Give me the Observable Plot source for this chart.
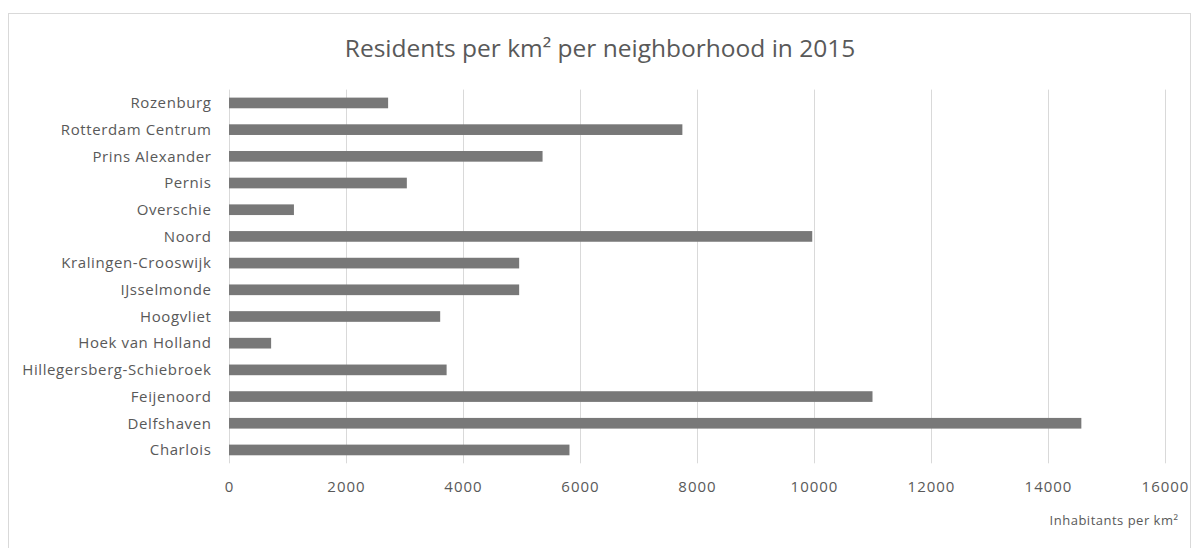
<!DOCTYPE html>
<html>
<head>
<meta charset="utf-8">
<script src="https://cdn.jsdelivr.net/npm/d3@7"></script>
<script src="https://cdn.jsdelivr.net/npm/@observablehq/plot@0.6"></script>
<style>
  html, body { margin: 0; padding: 0; background: #fff; overflow: hidden; }
  #chart { position: relative; width: 1200px; height: 548px; font-family: "Open Sans", sans-serif; }
  #border { position: absolute; left: 8px; top: 13px; width: 1183px; height: 600px;
            border: 1px solid #d9d9d9; box-sizing: border-box; pointer-events: none; }
  #title { height: 70px; box-sizing: border-box; padding-top: 36px; text-align: center;
           font-size: 24.5px; line-height: 24px; color: #595959; }
  #chart svg { display: block; }
  g[aria-label="y-axis tick label"] text { letter-spacing: 0.6px; }
  g[aria-label="x-axis tick label"] text { letter-spacing: 1px; }
  g[aria-label="text"] text { letter-spacing: 0.5px; }
</style>
</head>
<body>
<div id="chart">
  <div id="border"></div>
  <div id="title">Residents per km² per neighborhood in 2015</div>
</div>
<script>
// Neighborhoods, listed top to bottom
const neighborhoods = [
  "Rozenburg",
  "Rotterdam Centrum",
  "Prins Alexander",
  "Pernis",
  "Overschie",
  "Noord",
  "Kralingen-Crooswijk",
  "IJsselmonde",
  "Hoogvliet",
  "Hoek van Holland",
  "Hillegersberg-Schiebroek",
  "Feijenoord",
  "Delfshaven",
  "Charlois"
];

// Residents per km² in 2015
const density = [2720, 7750, 5360, 3040, 1110, 9970, 4960, 4960, 3610, 720, 3720, 11000, 14570, 5820];

// Value axis ticks
const xTicks = [0, 2000, 4000, 6000, 8000, 10000, 12000, 14000, 16000];

const axisTitle = "Inhabitants per km²";

const rows = neighborhoods.map((name, i) => ({name, value: density[i]}));

const textColor = "#595959";

const chart = Plot.plot({
  width: 1200,
  height: 478,
  marginLeft: 229,
  marginRight: 35,
  marginTop: 19.6,
  marginBottom: 84.7,
  style: {fontFamily: "'Open Sans', sans-serif", color: textColor, background: "transparent"},
  x: {domain: [0, 16000]},
  y: {domain: neighborhoods, paddingInner: 0.6, paddingOuter: 0.3, round: false},
  marks: [
    Plot.gridX(xTicks, {stroke: "#d9d9d9", strokeOpacity: 1, strokeWidth: 1}),
    Plot.barX(rows, {x: "value", y: "name", fill: "#787878"}),
    Plot.axisY({tickSize: 0, tickPadding: 18, fontSize: 15, fill: textColor, label: null}),
    Plot.axisX(xTicks, {tickSize: 0, tickPadding: 18, fontSize: 15, fill: textColor,
                        tickFormat: d3.format("d"), label: null}),
    Plot.text([axisTitle], {frameAnchor: "bottom-right", textAnchor: "end", lineAnchor: "middle",
                            dx: 13, dy: 57, fontSize: 13, fill: textColor})
  ]
});

document.getElementById("chart").appendChild(chart);
</script>
</body>
</html>
